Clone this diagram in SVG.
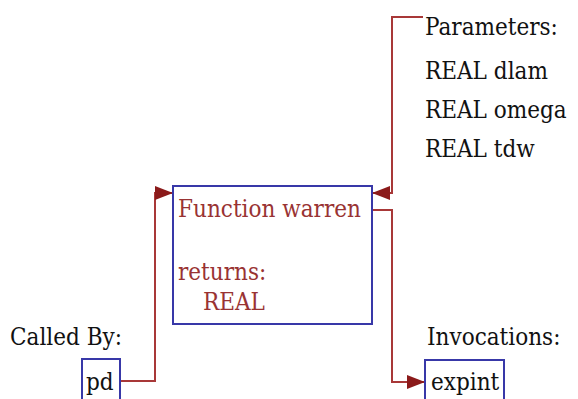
<svg xmlns="http://www.w3.org/2000/svg" width="578" height="399" viewBox="0 0 578 399">
<style>
.t{font-family:"DejaVu Serif Condensed","DejaVu Serif","Liberation Serif",serif;font-stretch:condensed;font-size:24px;fill:#111}
.r{fill:#993333}
.box{fill:#fff;stroke:#3838a8;stroke-width:2}
.c{fill:none;stroke:#a83838;stroke-width:2}
</style>
<defs>
<marker id="a" markerWidth="18" markerHeight="14" refX="18" refY="7" orient="auto" markerUnits="userSpaceOnUse">
<path d="M0,0 L18,7 L0,14 Z" fill="#8b1a1a"/>
</marker>
</defs>
<rect width="578" height="399" fill="#fff"/>
<g id="connectors">
<path class="c" d="M423,17 H392 V193 H372" marker-end="url(#a)"/>
<path class="c" d="M372,210 H392 V382 H425" marker-end="url(#a)"/>
<path class="c" d="M120,381 H155 V193 H173" marker-end="url(#a)"/>
</g>
<g id="warren">
<rect class="box" x="173" y="186" width="199" height="138"/>
<text class="t r" x="178" y="217">Function warren</text>
<text class="t r" x="178" y="280">returns:</text>
<text class="t r" x="203" y="310">REAL</text>
</g>
<g id="parameters">
<text class="t" x="425" y="35">Parameters:</text>
<text class="t" x="425" y="79">REAL dlam</text>
<text class="t" x="425" y="118">REAL omega</text>
<text class="t" x="425" y="157">REAL tdw</text>
</g>
<g id="calledby">
<text class="t" x="10" y="345">Called By:</text>
</g>
<g id="pd">
<rect class="box" x="82" y="359" width="38" height="50"/>
<text class="t" x="86" y="390">pd</text>
</g>
<g id="invocations">
<text class="t" x="427" y="345">Invocations:</text>
</g>
<g id="expint">
<rect class="box" x="425" y="360" width="79" height="50"/>
<text class="t" x="431" y="390">expint</text>
</g>
</svg>
